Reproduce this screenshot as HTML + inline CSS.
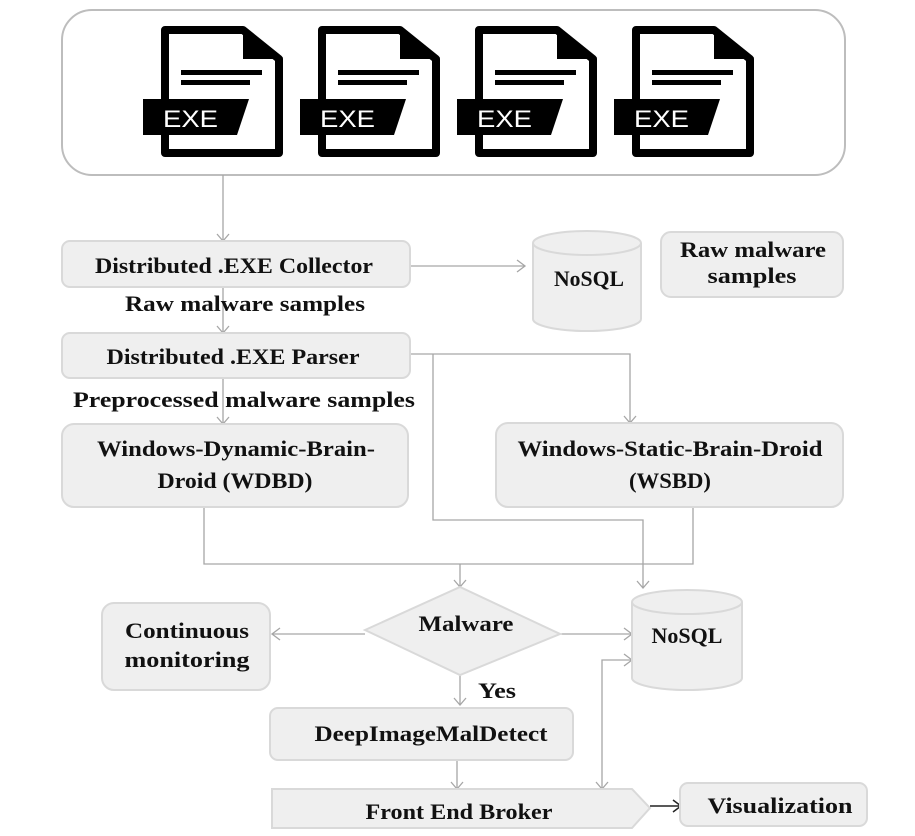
<!DOCTYPE html>
<html><head><meta charset="utf-8"><style>
html,body{margin:0;padding:0;background:#fff;}
svg{display:block;}
text{font-family:"Liberation Serif",serif;font-weight:bold;font-size:22px;fill:#111;text-anchor:middle;}
.box{fill:#efefef;stroke:#d9d9d9;stroke-width:2;}
.ln{fill:none;stroke:#a6a6a6;stroke-width:1.3;}
.ex{font-family:"Liberation Sans",sans-serif;font-weight:normal;font-size:24px;fill:#fff;text-anchor:start;}
</style></head><body>
<svg width="915" height="836" viewBox="0 0 915 836" xmlns="http://www.w3.org/2000/svg">
<defs>
<g id="ico">
<polygon points="4,4 82,4 118,33 118,127 4,127" fill="#fff" stroke="#000" stroke-width="8" stroke-linejoin="round"/>
<polygon points="82,2 82,33 120,33" fill="#000"/>
<rect x="20" y="44" width="81" height="5" fill="#000"/>
<rect x="20" y="54" width="69" height="5" fill="#000"/>
<polygon points="-18,73 88,73 76,109 -18,109" fill="#000"/>
<text class="ex" x="2" y="101" textLength="55" lengthAdjust="spacingAndGlyphs">EXE</text>
</g>
</defs>
<rect x="62" y="10" width="783" height="165" rx="30" fill="#fff" stroke="#bdbdbd" stroke-width="2"/>
<use href="#ico" x="161" y="26"/>
<use href="#ico" x="318" y="26"/>
<use href="#ico" x="475" y="26"/>
<use href="#ico" x="632" y="26"/>

<g class="ln">
<path d="M223,175V241"/><path d="M217,234l6,7l6,-7"/>
<path d="M410,266H524"/><path d="M517,260l8,6l-8,6"/>
<path d="M223,287V333"/><path d="M217,326l6,7l6,-7"/>
<path d="M223,378V424"/><path d="M217,417l6,7l6,-7"/>
<path d="M410,354H630V423"/><path d="M624,416l6,7l6,-7"/>
<path d="M433,354V520H643V588"/><path d="M637,581l6,7l6,-7"/>
<path d="M204,507V564H693V507"/>
<path d="M460,564V587"/><path d="M454,580l6,7l6,-7"/>
<path d="M365,634H272"/><path d="M280,628l-8,6l8,6"/>
<path d="M560,634H632"/><path d="M624,628l8,6l-8,6"/>
<path d="M460,673V705"/><path d="M454,698l6,7l6,-7"/>
<path d="M457,760V789"/><path d="M451,782l6,7l6,-7"/>
<path d="M602,789V660H632"/><path d="M596,782l6,7l6,-7"/><path d="M624,654l8,6l-8,6"/>
</g>
<path d="M650,806H680M673,800l8,6l-8,6" fill="none" stroke="#222" stroke-width="1.5"/>

<rect class="box" x="62" y="241" width="348" height="46" rx="8"/>
<text x="234" y="273" textLength="278" lengthAdjust="spacingAndGlyphs">Distributed .EXE Collector</text>
<text x="245" y="311" textLength="240" lengthAdjust="spacingAndGlyphs">Raw malware samples</text>
<rect class="box" x="62" y="333" width="348" height="45" rx="8"/>
<text x="233" y="364" textLength="253" lengthAdjust="spacingAndGlyphs">Distributed .EXE Parser</text>
<text x="244" y="407" textLength="342" lengthAdjust="spacingAndGlyphs">Preprocessed malware samples</text>

<path class="box" d="M533,243v76a54,12 0 0 0 108,0v-76a54,12 0 0 0 -108,0a54,12 0 0 0 108,0"/>
<text x="589" y="286" textLength="70" lengthAdjust="spacingAndGlyphs">NoSQL</text>
<rect class="box" x="661" y="232" width="182" height="65" rx="10"/>
<text x="753" y="257" textLength="146" lengthAdjust="spacingAndGlyphs">Raw malware</text>
<text x="752" y="283" textLength="89" lengthAdjust="spacingAndGlyphs">samples</text>

<rect class="box" x="62" y="424" width="346" height="83" rx="12"/>
<text x="236" y="456" textLength="278" lengthAdjust="spacingAndGlyphs">Windows-Dynamic-Brain-</text>
<text x="235" y="488" textLength="155" lengthAdjust="spacingAndGlyphs">Droid (WDBD)</text>
<rect class="box" x="496" y="423" width="347" height="84" rx="12"/>
<text x="670" y="456" textLength="305" lengthAdjust="spacingAndGlyphs">Windows-Static-Brain-Droid</text>
<text x="670" y="488" textLength="82" lengthAdjust="spacingAndGlyphs">(WSBD)</text>

<polygon class="box" points="365,630 460,587 560,634 460,675"/>
<text x="466" y="631" textLength="95" lengthAdjust="spacingAndGlyphs">Malware</text>
<path class="box" d="M632,602v76a55,12 0 0 0 110,0v-76a55,12 0 0 0 -110,0a55,12 0 0 0 110,0"/>
<text x="687" y="643" textLength="71" lengthAdjust="spacingAndGlyphs">NoSQL</text>
<rect class="box" x="102" y="603" width="168" height="87" rx="12"/>
<text x="187" y="638" textLength="124" lengthAdjust="spacingAndGlyphs">Continuous</text>
<text x="187" y="667" textLength="125" lengthAdjust="spacingAndGlyphs">monitoring</text>
<text x="497" y="698" textLength="38" lengthAdjust="spacingAndGlyphs">Yes</text>
<rect class="box" x="270" y="708" width="303" height="52" rx="8"/>
<text x="431" y="741" textLength="233" lengthAdjust="spacingAndGlyphs">DeepImageMalDetect</text>
<polygon class="box" points="272,789 632,789 650,808 632,828 272,828"/>
<text x="459" y="819" textLength="187" lengthAdjust="spacingAndGlyphs">Front End Broker</text>
<rect class="box" x="680" y="783" width="187" height="43" rx="8"/>
<text x="780" y="813" textLength="145" lengthAdjust="spacingAndGlyphs">Visualization</text>
</svg>
</body></html>
